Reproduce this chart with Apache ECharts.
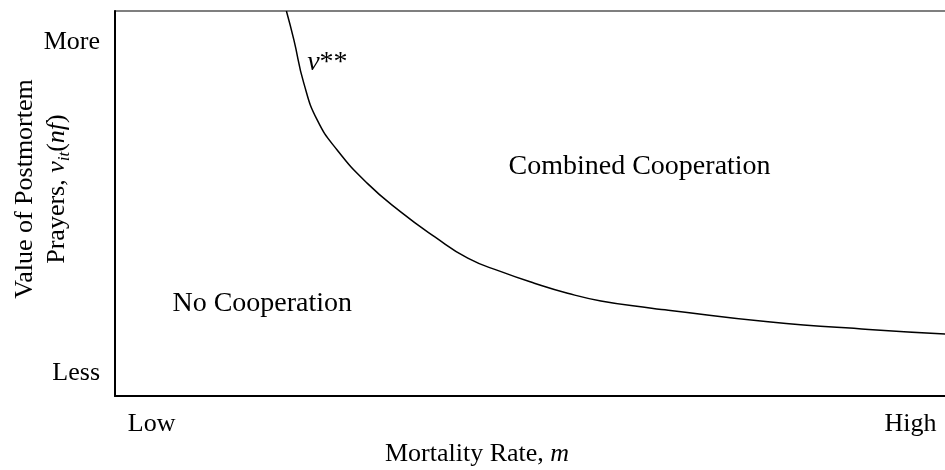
<!DOCTYPE html>
<html>
<head>
<meta charset="utf-8">
<script src="https://cdn.jsdelivr.net/npm/echarts@6.0.0/dist/echarts.min.js"></script>
<style>
  html, body { margin: 0; padding: 0; background: #fff; }
  #main { width: 945px; height: 470px; }
</style>
</head>
<body>
<div id="main"></div>
<script>
const FontFam = "'Liberation Serif', 'Times New Roman', serif";

// v** boundary curve (mortality rate vs value of prayers)
const curveX = [20.6, 21.5, 22.7, 24.3, 26.7, 30.3, 34.3, 38.4, 42.4, 46.4, 50.4, 54.4, 58.4, 64.5, 66.5, 78.5, 90.6, 100];
const curveY = [100, 92.5, 81.2, 71.7, 63.9, 55.3, 47.9, 41.4, 35.8, 32.3, 29.3, 26.7, 24.7, 22.8, 22.3, 19.3, 17.3, 16.1];

// tick labels
const xTickValues = [4.4, 95.6];
const xTickLabels = ['Low', 'High'];
const yTickValues = [92, 6];
const yTickLabels = ['More', 'Less'];

// region labels
const regionNames = ['{i|v}**', 'Combined Cooperation', 'No Cooperation'];
const regionX = [23.1, 47.3, 6.9];
const regionY = [86.5, 59.7, 23.9];

var chart = echarts.init(document.getElementById('main'), null, { renderer: 'canvas' });

var curveData = [];
for (var i = 0; i < curveX.length; i++) {
  curveData.push([curveX[i], curveY[i]]);
}
var regionData = [];
for (var j = 0; j < regionNames.length; j++) {
  regionData.push({ value: [regionX[j], regionY[j]], name: regionNames[j] });
}

var italic = { fontFamily: FontFam, fontSize: 26, fontStyle: 'italic', color: '#000' };

var option = {
  backgroundColor: '#fff',
  animation: false,
  grid: {
    left: 115,
    top: 11,
    right: -2,
    bottom: 74,
    containLabel: false,
    outerBoundsMode: 'none',
    show: true,
    borderColor: '#000',
    borderWidth: 1.2
  },
  xAxis: {
    type: 'value',
    min: 0,
    max: 100,
    splitLine: { show: false },
    axisTick: { show: false },
    axisLine: { lineStyle: { color: '#000', width: 2 } },
    axisLabel: {
      customValues: xTickValues,
      margin: 15,
      fontFamily: FontFam,
      fontSize: 26,
      color: '#000',
      formatter: function (v) {
        return xTickLabels[xTickValues.indexOf(v)];
      }
    },
    name: 'Mortality Rate, {i|m}',
    nameLocation: 'middle',
    nameGap: 45,
    nameMoveOverlap: false,
    nameTextStyle: {
      fontFamily: FontFam,
      fontSize: 26,
      color: '#000',
      padding: [0, 108, 0, 0],
      rich: { i: italic }
    }
  },
  yAxis: {
    type: 'value',
    min: 0,
    max: 100,
    splitLine: { show: false },
    axisTick: { show: false },
    axisLine: { lineStyle: { color: '#000', width: 2 } },
    axisLabel: {
      customValues: yTickValues,
      margin: 15,
      fontFamily: FontFam,
      fontSize: 26,
      color: '#000',
      formatter: function (v) {
        return yTickLabels[yTickValues.indexOf(v)];
      }
    },
    name: 'Value of Postmortem\nPrayers, {i|v}{sub|it}({i|nf})',
    nameLocation: 'middle',
    nameRotate: 90,
    nameGap: 42,
    nameMoveOverlap: false,
    nameTextStyle: {
      fontFamily: FontFam,
      fontSize: 26,
      lineHeight: 32,
      color: '#000',
      padding: [0, 0, 0, 29],
      rich: {
        i: { fontFamily: FontFam, fontSize: 26, fontStyle: 'italic', color: '#000', lineHeight: 32 },
        sub: { fontFamily: FontFam, fontSize: 17, fontStyle: 'italic', color: '#000', verticalAlign: 'bottom', lineHeight: 26 }
      }
    }
  },
  series: [
    {
      type: 'line',
      data: curveData,
      smooth: 0.5,
      symbol: 'none',
      lineStyle: { color: '#000', width: 1.5 },
      z: 3
    },
    {
      type: 'scatter',
      data: regionData,
      symbolSize: 0,
      silent: true,
      itemStyle: { opacity: 1 },
      label: {
        show: true,
        position: 'right',
        distance: 0,
        formatter: '{b}',
        fontFamily: FontFam,
        fontSize: 28,
        color: '#000',
        rich: { i: { fontFamily: FontFam, fontSize: 28, fontStyle: 'italic', color: '#000' } }
      }
    }
  ]
};

chart.setOption(option);
</script>
</body>
</html>
